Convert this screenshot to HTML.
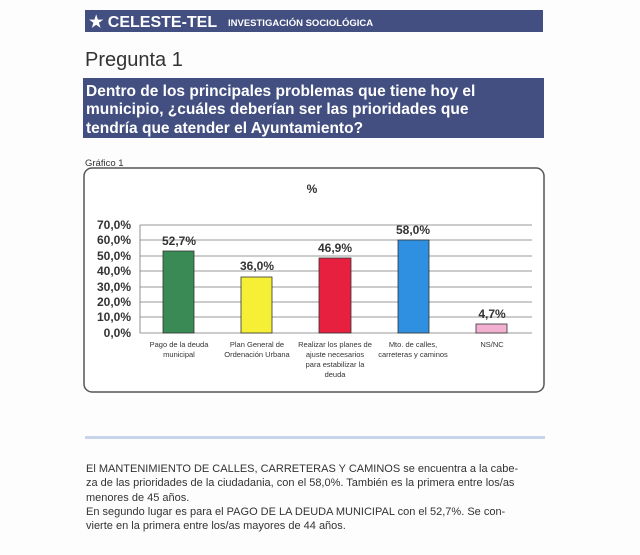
<!DOCTYPE html>
<html><head><meta charset="utf-8"><style>
body{margin:0;background:#fff;}
svg{display:block;font-family:"Liberation Sans",sans-serif;}
</style></head><body>
<svg width="640" height="555" viewBox="0 0 640 555" xmlns="http://www.w3.org/2000/svg">
<rect width="640" height="555" fill="#fdfdfd"/>
<rect x="85" y="10" width="458" height="22" fill="#434f80"/>
<text x="89" y="27" font-size="16" font-weight="bold" fill="#fff">★ CELESTE-TEL</text>
<text x="228" y="26" font-size="9.5" font-weight="bold" fill="#fff">INVESTIGACIÓN SOCIOLÓGICA</text>
<text x="85" y="66" font-size="20" fill="#333">Pregunta 1</text>
<rect x="83" y="78" width="461" height="60" fill="#434f80"/>
<g font-size="15.5" font-weight="bold" fill="#fff">
<text x="86" y="96">Dentro de los principales problemas que tiene hoy el</text>
<text x="86" y="114">municipio, ¿cuáles deberían ser las prioridades que</text>
<text x="86" y="133">tendría que atender el Ayuntamiento?</text>
</g>
<text x="85" y="166" font-size="9.5" fill="#333">Gráfico 1</text>
<rect x="84" y="168" width="460" height="224" rx="8" fill="#fff" stroke="#555" stroke-width="1.5"/>
<text x="312" y="193" font-size="12" font-weight="bold" text-anchor="middle" fill="#333">%</text>
<g stroke="#777" stroke-width="0.8">
<line x1="140" y1="225" x2="532" y2="225"/>
<line x1="140" y1="240" x2="532" y2="240"/>
<line x1="140" y1="256" x2="532" y2="256"/>
<line x1="140" y1="271" x2="532" y2="271"/>
<line x1="140" y1="287" x2="532" y2="287"/>
<line x1="140" y1="302" x2="532" y2="302"/>
<line x1="140" y1="317" x2="532" y2="317"/>
<line x1="140" y1="333" x2="532" y2="333"/>
<line x1="140" y1="225" x2="140" y2="333"/>
</g>
<g font-size="12" font-weight="bold" fill="#333" text-anchor="end">
<text x="131" y="229">70,0%</text><text x="131" y="244">60,0%</text><text x="131" y="260">50,0%</text>
<text x="131" y="275">40,0%</text><text x="131" y="291">30,0%</text><text x="131" y="306">20,0%</text>
<text x="131" y="321">10,0%</text><text x="131" y="337">0,0%</text>
</g>
<g stroke="#333" stroke-width="0.8">
<rect x="163" y="251" width="31" height="82" fill="#3a8a55"/>
<rect x="241" y="277" width="31" height="56" fill="#f5f035"/>
<rect x="319" y="258" width="32" height="75" fill="#e8203f"/>
<rect x="398" y="240" width="31" height="93" fill="#2f8fe0"/>
<rect x="476" y="324" width="31" height="9" fill="#f3b0d0"/>
</g>
<g font-size="12" font-weight="bold" fill="#333" text-anchor="middle">
<text x="179" y="245">52,7%</text><text x="257" y="270">36,0%</text><text x="335" y="252">46,9%</text>
<text x="413" y="234">58,0%</text><text x="492" y="318">4,7%</text>
</g>
<g font-size="7.5" fill="#333" text-anchor="middle">
<text x="179" y="347">Pago de la deuda</text><text x="179" y="357">municipal</text>
<text x="257" y="347">Plan General de</text><text x="257" y="357">Ordenación Urbana</text>
<text x="335" y="347">Realizar los planes de</text><text x="335" y="357">ajuste necesarios</text><text x="335" y="367">para estabilizar la</text><text x="335" y="377">deuda</text>
<text x="413" y="347">Mto. de calles,</text><text x="413" y="357">carreteras y caminos</text>
<text x="492" y="347">NS/NC</text>
</g>
<rect x="85" y="436" width="460" height="3" fill="#c8d4ea"/>
<g font-size="11" fill="#333">
<text x="86" y="472">El MANTENIMIENTO DE CALLES, CARRETERAS Y CAMINOS se encuentra a la cabe-</text>
<text x="86" y="486">za de las prioridades de la ciudadania, con el 58,0%. También es la primera entre los/as</text>
<text x="86" y="501">menores de 45 años.</text>
<text x="86" y="515">En segundo lugar es para el PAGO DE LA DEUDA MUNICIPAL con el 52,7%. Se con-</text>
<text x="86" y="529">vierte en la primera entre los/as mayores de 44 años.</text>
</g>
</svg>
</body></html>
